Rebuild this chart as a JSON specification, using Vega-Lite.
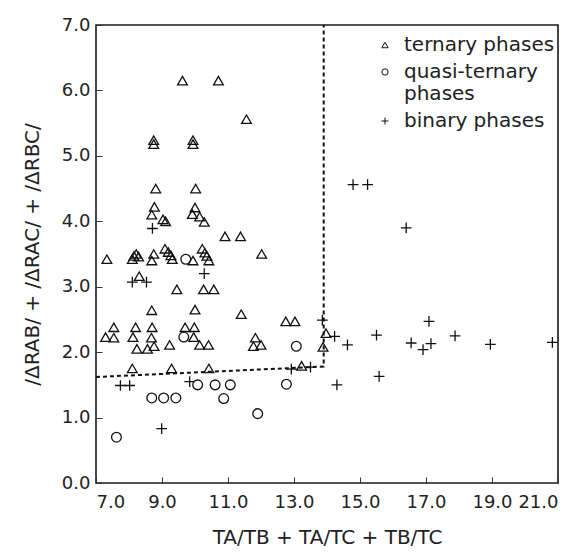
{
  "$schema": "https://vega.github.io/schema/vega-lite/v6.json",
  "width": 462,
  "height": 458,
  "autosize": "none",
  "padding": {"left": 96, "top": 25, "right": 25, "bottom": 71},
  "background": "white",
  "config": {
    "view": {"stroke": "#1a1a1a", "strokeWidth": 1.6},
    "font": "DejaVu Sans",
    "axis": {
      "grid": false,
      "domain": false,
      "tickColor": "#333",
      "tickSize": -6,
      "tickWidth": 1,
      "labelFont": "DejaVu Sans",
      "labelFontSize": 18,
      "labelColor": "#222",
      "titleFont": "DejaVu Sans",
      "titleFontSize": 20,
      "titleFontWeight": "normal",
      "titleColor": "#222"
    }
  },
  "datasets": {
    "points": [
      {"x": 9.62, "y": 6.15, "phase": "ternary phases"},
      {"x": 10.71, "y": 6.15, "phase": "ternary phases"},
      {"x": 11.56, "y": 5.56, "phase": "ternary phases"},
      {"x": 8.75, "y": 5.18, "phase": "ternary phases"},
      {"x": 8.75, "y": 5.24, "phase": "ternary phases"},
      {"x": 9.94, "y": 5.18, "phase": "ternary phases"},
      {"x": 9.94, "y": 5.24, "phase": "ternary phases"},
      {"x": 8.81, "y": 4.5, "phase": "ternary phases"},
      {"x": 10.02, "y": 4.5, "phase": "ternary phases"},
      {"x": 8.77, "y": 4.22, "phase": "ternary phases"},
      {"x": 8.69, "y": 4.1, "phase": "ternary phases"},
      {"x": 9.03, "y": 4.03, "phase": "ternary phases"},
      {"x": 9.11, "y": 4.0, "phase": "ternary phases"},
      {"x": 10.0, "y": 4.21, "phase": "ternary phases"},
      {"x": 9.92, "y": 4.11, "phase": "ternary phases"},
      {"x": 10.14, "y": 4.07, "phase": "ternary phases"},
      {"x": 10.28, "y": 3.99, "phase": "ternary phases"},
      {"x": 10.91, "y": 3.77, "phase": "ternary phases"},
      {"x": 11.38, "y": 3.77, "phase": "ternary phases"},
      {"x": 7.33, "y": 3.42, "phase": "ternary phases"},
      {"x": 8.1, "y": 3.42, "phase": "ternary phases"},
      {"x": 8.15, "y": 3.47, "phase": "ternary phases"},
      {"x": 8.22, "y": 3.5, "phase": "ternary phases"},
      {"x": 8.29, "y": 3.46, "phase": "ternary phases"},
      {"x": 8.75, "y": 3.5, "phase": "ternary phases"},
      {"x": 8.69, "y": 3.4, "phase": "ternary phases"},
      {"x": 9.09, "y": 3.58, "phase": "ternary phases"},
      {"x": 9.19, "y": 3.53, "phase": "ternary phases"},
      {"x": 9.27, "y": 3.48, "phase": "ternary phases"},
      {"x": 9.31, "y": 3.42, "phase": "ternary phases"},
      {"x": 9.94, "y": 3.4, "phase": "ternary phases"},
      {"x": 10.22, "y": 3.58, "phase": "ternary phases"},
      {"x": 10.3, "y": 3.52, "phase": "ternary phases"},
      {"x": 10.36, "y": 3.47, "phase": "ternary phases"},
      {"x": 10.42, "y": 3.4, "phase": "ternary phases"},
      {"x": 12.02, "y": 3.5, "phase": "ternary phases"},
      {"x": 8.31, "y": 3.16, "phase": "ternary phases"},
      {"x": 9.45, "y": 2.96, "phase": "ternary phases"},
      {"x": 10.26, "y": 2.96, "phase": "ternary phases"},
      {"x": 10.57, "y": 2.96, "phase": "ternary phases"},
      {"x": 8.69, "y": 2.64, "phase": "ternary phases"},
      {"x": 10.0, "y": 2.65, "phase": "ternary phases"},
      {"x": 11.4, "y": 2.58, "phase": "ternary phases"},
      {"x": 12.75, "y": 2.47, "phase": "ternary phases"},
      {"x": 13.03, "y": 2.47, "phase": "ternary phases"},
      {"x": 7.54, "y": 2.38, "phase": "ternary phases"},
      {"x": 7.29, "y": 2.23, "phase": "ternary phases"},
      {"x": 7.54, "y": 2.22, "phase": "ternary phases"},
      {"x": 8.2, "y": 2.38, "phase": "ternary phases"},
      {"x": 8.12, "y": 2.23, "phase": "ternary phases"},
      {"x": 8.7, "y": 2.38, "phase": "ternary phases"},
      {"x": 8.68, "y": 2.22, "phase": "ternary phases"},
      {"x": 8.76, "y": 2.09, "phase": "ternary phases"},
      {"x": 8.56, "y": 2.05, "phase": "ternary phases"},
      {"x": 8.24, "y": 2.05, "phase": "ternary phases"},
      {"x": 9.23, "y": 2.11, "phase": "ternary phases"},
      {"x": 9.7, "y": 2.38, "phase": "ternary phases"},
      {"x": 9.98, "y": 2.38, "phase": "ternary phases"},
      {"x": 9.96, "y": 2.23, "phase": "ternary phases"},
      {"x": 10.14, "y": 2.11, "phase": "ternary phases"},
      {"x": 10.41, "y": 2.11, "phase": "ternary phases"},
      {"x": 11.83, "y": 2.22, "phase": "ternary phases"},
      {"x": 11.77, "y": 2.09, "phase": "ternary phases"},
      {"x": 12.0, "y": 2.11, "phase": "ternary phases"},
      {"x": 13.88, "y": 2.08, "phase": "ternary phases"},
      {"x": 13.97, "y": 2.29, "phase": "ternary phases"},
      {"x": 8.1, "y": 1.75, "phase": "ternary phases"},
      {"x": 9.29, "y": 1.75, "phase": "ternary phases"},
      {"x": 10.42, "y": 1.75, "phase": "ternary phases"},
      {"x": 13.23, "y": 1.79, "phase": "ternary phases"},
      {"x": 9.72, "y": 3.42, "phase": "quasi-ternary phases"},
      {"x": 9.66, "y": 2.23, "phase": "quasi-ternary phases"},
      {"x": 13.07, "y": 2.09, "phase": "quasi-ternary phases"},
      {"x": 10.08, "y": 1.5, "phase": "quasi-ternary phases"},
      {"x": 10.61, "y": 1.5, "phase": "quasi-ternary phases"},
      {"x": 11.07, "y": 1.5, "phase": "quasi-ternary phases"},
      {"x": 12.77, "y": 1.51, "phase": "quasi-ternary phases"},
      {"x": 8.69, "y": 1.3, "phase": "quasi-ternary phases"},
      {"x": 9.05, "y": 1.3, "phase": "quasi-ternary phases"},
      {"x": 9.42, "y": 1.3, "phase": "quasi-ternary phases"},
      {"x": 10.87, "y": 1.29, "phase": "quasi-ternary phases"},
      {"x": 11.9, "y": 1.06, "phase": "quasi-ternary phases"},
      {"x": 7.62, "y": 0.7, "phase": "quasi-ternary phases"},
      {"x": 8.71, "y": 3.89, "phase": "binary phases"},
      {"x": 10.28, "y": 3.2, "phase": "binary phases"},
      {"x": 8.1, "y": 3.07, "phase": "binary phases"},
      {"x": 8.53, "y": 3.07, "phase": "binary phases"},
      {"x": 13.86, "y": 2.49, "phase": "binary phases"},
      {"x": 14.23, "y": 2.24, "phase": "binary phases"},
      {"x": 12.92, "y": 1.74, "phase": "binary phases"},
      {"x": 13.5, "y": 1.77, "phase": "binary phases"},
      {"x": 7.74, "y": 1.49, "phase": "binary phases"},
      {"x": 8.02, "y": 1.49, "phase": "binary phases"},
      {"x": 9.84, "y": 1.55, "phase": "binary phases"},
      {"x": 14.3, "y": 1.5, "phase": "binary phases"},
      {"x": 8.99, "y": 0.83, "phase": "binary phases"},
      {"x": 14.79, "y": 4.56, "phase": "binary phases"},
      {"x": 15.23, "y": 4.56, "phase": "binary phases"},
      {"x": 16.4, "y": 3.9, "phase": "binary phases"},
      {"x": 17.09, "y": 2.47, "phase": "binary phases"},
      {"x": 15.5, "y": 2.26, "phase": "binary phases"},
      {"x": 17.88, "y": 2.25, "phase": "binary phases"},
      {"x": 14.62, "y": 2.11, "phase": "binary phases"},
      {"x": 16.55, "y": 2.14, "phase": "binary phases"},
      {"x": 17.15, "y": 2.13, "phase": "binary phases"},
      {"x": 16.91, "y": 2.04, "phase": "binary phases"},
      {"x": 18.95, "y": 2.12, "phase": "binary phases"},
      {"x": 20.83, "y": 2.15, "phase": "binary phases"},
      {"x": 15.58, "y": 1.63, "phase": "binary phases"}
    ],
    "boundary": [
      {"x": 7.0, "y": 1.62, "o": 1},
      {"x": 13.9, "y": 1.78, "o": 2},
      {"x": 13.9, "y": 7.0, "o": 3}
    ]
  },
  "layer": [
    {
      "data": {"name": "boundary"},
      "mark": {"type": "line", "color": "#111", "strokeWidth": 2, "strokeDash": [4, 3]},
      "encoding": {
        "x": {"field": "x", "type": "quantitative", "scale": {"domain": [7, 21], "nice": false}},
        "y": {"field": "y", "type": "quantitative", "scale": {"domain": [0, 7], "nice": false}},
        "order": {"field": "o"}
      }
    },
    {
      "data": {"name": "points"},
      "mark": {"type": "point", "filled": false, "strokeWidth": 1.3, "color": "#111", "opacity": 1, "size": 95},
      "encoding": {
        "x": {
          "field": "x", "type": "quantitative",
          "scale": {"domain": [7, 21], "nice": false},
          "axis": {"values": [7, 9, 11, 13, 15, 17, 19, 21], "format": ".1f", "labelPadding": 16, "title": "TA/TB + TA/TC + TB/TC", "titlePadding": 16}
        },
        "y": {
          "field": "y", "type": "quantitative",
          "scale": {"domain": [0, 7], "nice": false},
          "axis": {"values": [0, 1, 2, 3, 4, 5, 6, 7], "format": ".1f", "labelPadding": 12, "title": "/ΔRAB/ + /ΔRAC/ + /ΔRBC/", "titlePadding": 19}
        },
        "shape": {
          "field": "phase", "type": "nominal",
          "scale": {
            "domain": ["ternary phases", "quasi-ternary phases", "binary phases"],
            "range": ["triangle-up", "circle", "M-1.1,0H1.1M0,-1.1V1.1"]
          },
          "legend": {
            "title": null,
            "orient": "none",
            "legendX": 279,
            "legendY": 10,
            "padding": 0,
            "symbolSize": 40,
            "symbolStrokeWidth": 1,
            "symbolStrokeColor": "#111",
            "symbolFillColor": "transparent",
            "labelFontSize": 20,
            "labelFont": "DejaVu Sans",
            "labelColor": "#222",
            "labelOffset": 9,
            "rowPadding": 7,
            "labelLimit": 300,
            "labelExpr": "datum.label == 'quasi-ternary phases' ? ['quasi-ternary', 'phases'] : datum.label",
            "encode": {
              "labels": {"update": {"dy": {"signal": "datum.value == 'quasi-ternary phases' ? 12 : 0"}}}
            }
          }
        }
      }
    }
  ]
}
